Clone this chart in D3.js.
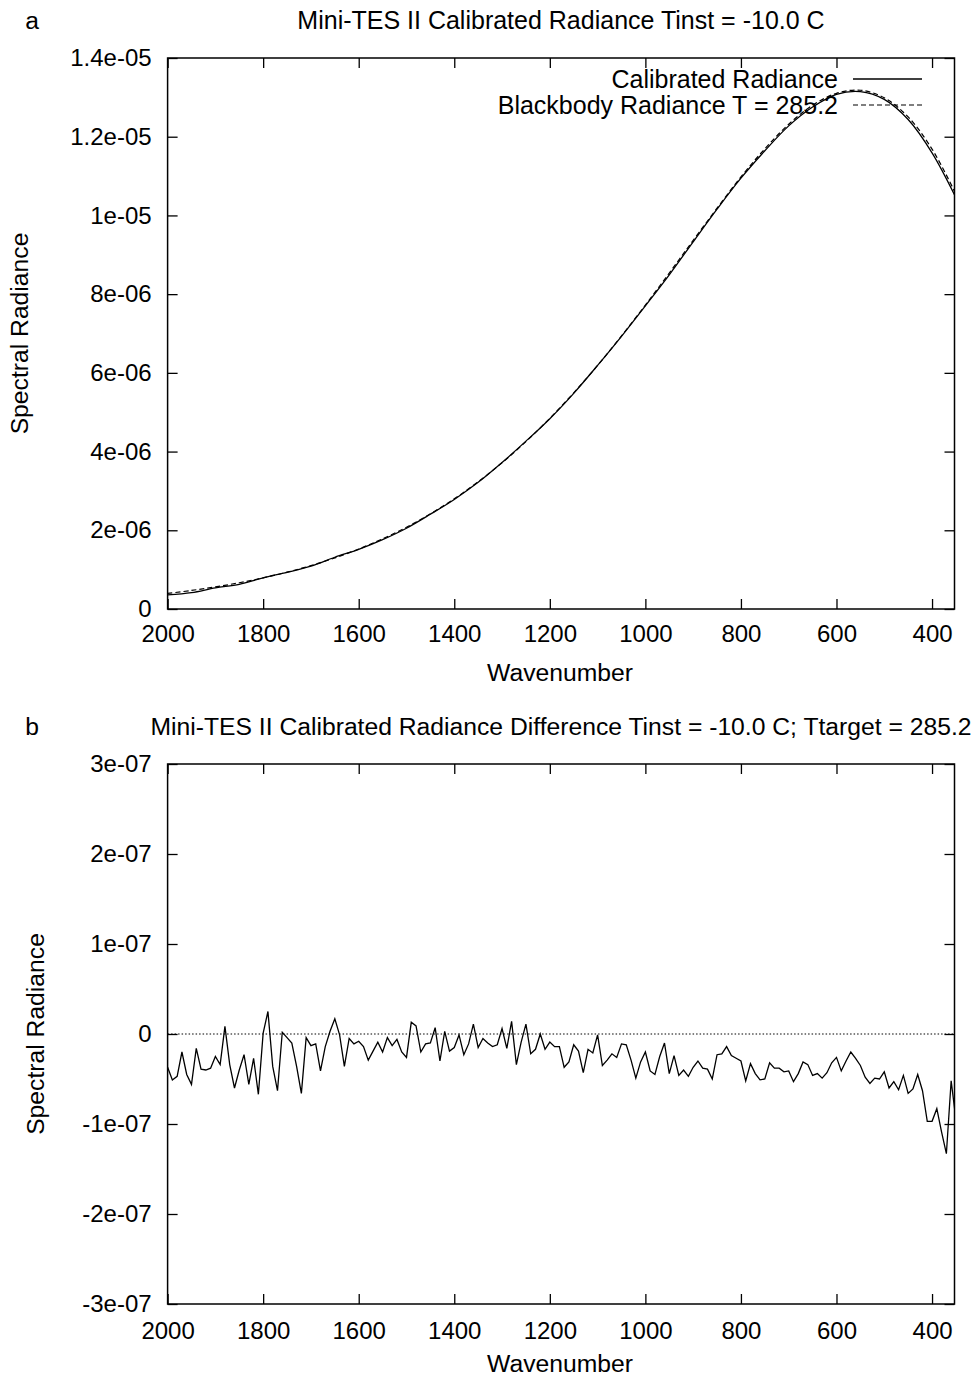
<!DOCTYPE html>
<html>
<head>
<meta charset="utf-8">
<script src="https://cdn.jsdelivr.net/npm/d3@7"></script>
<style>
  body { margin: 0; background: #fff; }
  svg { display: block; font-family: "Liberation Sans", Arial, sans-serif; }
</style>
</head>
<body>
<svg id="chart"></svg>
<script>
const width = 973
const height = 1379

const specWavenumbers = [2000, 1950, 1900, 1850, 1800, 1750, 1700, 1650, 1600, 1550,
    1500, 1450, 1400, 1350, 1300, 1250, 1200, 1150, 1100, 1050,
    1000, 950, 900, 850, 800, 750, 700, 650, 600, 550,
    500, 450, 400, 350]
const blackbody = [0.395e-6, 0.472e-6, 0.562e-6, 0.667e-6, 0.791e-6, 0.935e-6, 1.103e-6, 1.298e-6, 1.524e-6, 1.783e-6,
    2.079e-6, 2.418e-6, 2.799e-6, 3.233e-6, 3.717e-6, 4.254e-6, 4.845e-6, 5.493e-6, 6.190e-6, 6.939e-6,
    7.723e-6, 8.536e-6, 9.367e-6, 10.183e-6, 10.977e-6, 11.692e-6, 12.316e-6, 12.800e-6, 13.103e-6, 13.181e-6,
    12.990e-6, 12.502e-6, 11.686e-6, 10.539e-6]
const calibrated = [0.358e-6, 0.416e-6, 0.537e-6, 0.627e-6, 0.792e-6, 0.931e-6, 1.090e-6, 1.315e-6, 1.516e-6, 1.763e-6,
    2.053e-6, 2.408e-6, 2.784e-6, 3.218e-6, 3.722e-6, 4.265e-6, 4.836e-6, 5.480e-6, 6.190e-6, 6.928e-6,
    7.703e-6, 8.492e-6, 9.330e-6, 10.160e-6, 10.947e-6, 11.642e-6, 12.275e-6, 12.754e-6, 13.077e-6, 13.146e-6,
    12.948e-6, 12.436e-6, 11.589e-6, 10.449e-6]

// bottom panel: calibrated - blackbody, every 10 cm-1 (units of 1e-7)
const diffWavenumbers = [2000, 1990, 1980, 1970, 1960, 1950, 1940, 1930, 1920, 1910,
    1900, 1890, 1880, 1870, 1860, 1850, 1840, 1830, 1820, 1810,
    1800, 1790, 1780, 1770, 1760, 1750, 1740, 1730, 1720, 1710,
    1700, 1690, 1680, 1670, 1660, 1650, 1640, 1630, 1620, 1610,
    1600, 1590, 1580, 1570, 1560, 1550, 1540, 1530, 1520, 1510,
    1500, 1490, 1480, 1470, 1460, 1450, 1440, 1430, 1420, 1410,
    1400, 1390, 1380, 1370, 1360, 1350, 1340, 1330, 1320, 1310,
    1300, 1290, 1280, 1270, 1260, 1250, 1240, 1230, 1220, 1210,
    1200, 1190, 1180, 1170, 1160, 1150, 1140, 1130, 1120, 1110,
    1100, 1090, 1080, 1070, 1060, 1050, 1040, 1030, 1020, 1010,
    1000, 990, 980, 970, 960, 950, 940, 930, 920, 910,
    900, 890, 880, 870, 860, 850, 840, 830, 820, 810,
    800, 790, 780, 770, 760, 750, 740, 730, 720, 710,
    700, 690, 680, 670, 660, 650, 640, 630, 620, 610,
    600, 590, 580, 570, 560, 550, 540, 530, 520, 510,
    500, 490, 480, 470, 460, 450, 440, 430, 420, 410,
    400, 390, 380, 370, 360, 350]
const diffValues = [-0.37, -0.51, -0.47, -0.20, -0.45, -0.56, -0.16, -0.39, -0.40, -0.38,
    -0.25, -0.34, 0.085, -0.34, -0.60, -0.40, -0.23, -0.56, -0.27, -0.67,
    0.01, 0.25, -0.36, -0.63, 0.02, -0.04, -0.10, -0.36, -0.66, -0.04,
    -0.13, -0.11, -0.41, -0.14, 0.03, 0.17, -0.01, -0.36, -0.05, -0.11,
    -0.08, -0.14, -0.29, -0.19, -0.09, -0.20, -0.04, -0.13, -0.06, -0.20,
    -0.26, 0.13, 0.09, -0.20, -0.11, -0.10, 0.07, -0.30, 0.03, -0.19,
    -0.15, -0.01, -0.23, -0.11, 0.11, -0.15, -0.05, -0.10, -0.14, -0.12,
    0.06, -0.16, 0.14, -0.34, -0.09, 0.11, -0.22, -0.17, 0.00, -0.17,
    -0.09, -0.14, -0.14, -0.37, -0.31, -0.12, -0.19, -0.43, -0.17, -0.21,
    -0.01, -0.35, -0.29, -0.22, -0.26, -0.11, -0.12, -0.29, -0.49, -0.31,
    -0.20, -0.41, -0.45, -0.25, -0.10, -0.44, -0.24, -0.46, -0.40, -0.47,
    -0.37, -0.30, -0.38, -0.39, -0.50, -0.23, -0.22, -0.14, -0.24, -0.27,
    -0.30, -0.52, -0.33, -0.44, -0.51, -0.50, -0.32, -0.38, -0.38, -0.42,
    -0.41, -0.53, -0.44, -0.31, -0.34, -0.46, -0.44, -0.49, -0.43, -0.32,
    -0.26, -0.41, -0.30, -0.20, -0.27, -0.35, -0.48, -0.55, -0.49, -0.50,
    -0.42, -0.60, -0.53, -0.62, -0.46, -0.66, -0.61, -0.45, -0.63, -0.97,
    -0.97, -0.83, -1.09, -1.33, -0.52, -0.95]

const xTicks = [2000, 1800, 1600, 1400, 1200, 1000, 800, 600, 400]
const yTicksTop = [0, 2e-6, 4e-6, 6e-6, 8e-6, 1e-5, 1.2e-5, 1.4e-5]
const yLabelsTop = ['0', '2e-06', '4e-06', '6e-06', '8e-06', '1e-05', '1.2e-05', '1.4e-05']
const yTicksBot = [-3e-7, -2e-7, -1e-7, 0, 1e-7, 2e-7, 3e-7]
const yLabelsBot = ['-3e-07', '-2e-07', '-1e-07', '0', '1e-07', '2e-07', '3e-07']

const titleTop = 'Mini-TES II Calibrated Radiance Tinst = -10.0 C'
const titleBot = 'Mini-TES II Calibrated Radiance Difference Tinst = -10.0 C; Ttarget = 285.2'
const legendNames = ['Calibrated Radiance', 'Blackbody Radiance T = 285.2']

const tickFont = 24
const labelFont = 24.7
const tickLen = 10
const left = 167.6, right = 954.5

const svg = d3.select('#chart')
    .attr('width', width)
    .attr('height', height)

svg.append('rect').attr('width', width).attr('height', height).attr('fill', '#fff')

const x = d3.scaleLinear()
    .domain([2000, 353])
    .range([left, right])

// draws frame, mirrored ticks, labels
const drawPanel = function(top, bottom, y, yTicks, yLabels, title, titleSize, letter, yLabelX, xPad, xLabelY) {
    const g = svg.append('g')

    g.append('g')
        .attr('transform', `translate(0,${bottom})`)
        .call(d3.axisBottom(x).tickValues(xTicks).tickSize(-tickLen).tickPadding(xPad).tickFormat(d3.format('d')))
        .call(g => g.select('.domain').remove())

    g.append('g')
        .attr('transform', `translate(0,${top})`)
        .call(d3.axisTop(x).tickValues(xTicks).tickSize(-tickLen).tickFormat(''))
        .call(g => g.select('.domain').remove())

    g.append('g')
        .attr('transform', `translate(${left},0)`)
        .call(d3.axisLeft(y).tickValues(yTicks).tickSize(-tickLen).tickPadding(16)
            .tickFormat((d, i) => yLabels[i]))
        .call(g => g.select('.domain').remove())

    g.append('g')
        .attr('transform', `translate(${right},0)`)
        .call(d3.axisRight(y).tickValues(yTicks).tickSize(-tickLen).tickFormat(''))
        .call(g => g.select('.domain').remove())

    g.selectAll('.tick line').attr('stroke', '#000').attr('stroke-width', 1.3)
    g.selectAll('.tick text')
        .attr('font-size', tickFont)
        .attr('font-family', '"Liberation Sans", Arial, sans-serif')
        .attr('fill', '#000')

    g.append('rect')
        .attr('x', left).attr('y', top)
        .attr('width', right - left).attr('height', bottom - top)
        .attr('fill', 'none').attr('stroke', '#000').attr('stroke-width', 1.5)

    g.append('text')
        .attr('x', 561).attr('y', top - 29)
        .attr('text-anchor', 'middle')
        .attr('font-size', titleSize)
        .text(title)

    g.append('text')
        .attr('x', 32).attr('y', top - 29)
        .attr('text-anchor', 'middle')
        .attr('font-size', labelFont)
        .text(letter)

    g.append('text')
        .attr('x', 560).attr('y', xLabelY)
        .attr('text-anchor', 'middle')
        .attr('font-size', labelFont)
        .text('Wavenumber')

    g.append('text')
        .attr('transform', `translate(${yLabelX},${(top + bottom) / 2}) rotate(-90)`)
        .attr('text-anchor', 'middle')
        .attr('font-size', labelFont)
        .text('Spectral Radiance')
}

// ---- panel a
const yTop = d3.scaleLinear().domain([0, 1.4e-5]).range([609, 58])
drawPanel(58, 609, yTop, yTicksTop, yLabelsTop, titleTop, 25, 'a', 28, 16, 681)

svg.append('clipPath').attr('id', 'clipA')
    .append('rect').attr('x', left).attr('y', 58).attr('width', right - left).attr('height', 609 - 58)

const lineTop = d3.line()
    .x(d => x(d[0]))
    .y(d => yTop(d[1]))
    .curve(d3.curveCatmullRom)

svg.append('path')
    .datum(specWavenumbers.map((w, i) => [w, blackbody[i]]))
    .attr('clip-path', 'url(#clipA)')
    .attr('d', lineTop)
    .attr('fill', 'none').attr('stroke', '#000').attr('stroke-width', 1.2)
    .attr('stroke-dasharray', '5,3')

svg.append('path')
    .datum(specWavenumbers.map((w, i) => [w, calibrated[i]]))
    .attr('clip-path', 'url(#clipA)')
    .attr('d', lineTop)
    .attr('fill', 'none').attr('stroke', '#000').attr('stroke-width', 1.3)

// legend
const legend = svg.append('g')
legendNames.forEach((name, i) => {
    const ly = 79 + i * 26
    legend.append('text')
        .attr('x', 838).attr('y', ly + 8.5)
        .attr('text-anchor', 'end')
        .attr('font-size', 25)
        .text(name)
    legend.append('line')
        .attr('x1', 853).attr('x2', 922)
        .attr('y1', ly).attr('y2', ly)
        .attr('stroke', '#000').attr('stroke-width', i == 0 ? 1.3 : 1.2)
        .attr('stroke-dasharray', i == 0 ? null : '5,3')
})

// ---- panel b
const yBot = d3.scaleLinear().domain([-3e-7, 3e-7]).range([1304, 764])
drawPanel(764, 1304, yBot, yTicksBot, yLabelsBot, titleBot, 24.7, 'b', 44, 18, 1372)

svg.append('clipPath').attr('id', 'clipB')
    .append('rect').attr('x', left).attr('y', 764).attr('width', right - left).attr('height', 1304 - 764)

// zero axis
svg.append('line')
    .attr('x1', left).attr('x2', right)
    .attr('y1', yBot(0)).attr('y2', yBot(0))
    .attr('stroke', '#000').attr('stroke-width', 1)
    .attr('stroke-dasharray', '1.5,2')

svg.append('path')
    .datum(diffWavenumbers.map((w, i) => [w, diffValues[i] * 1e-7]))
    .attr('clip-path', 'url(#clipB)')
    .attr('d', d3.line().x(d => x(d[0])).y(d => yBot(d[1])))
    .attr('fill', 'none').attr('stroke', '#000').attr('stroke-width', 1.3)
    .attr('stroke-linejoin', 'miter')
</script>
</body>
</html>
